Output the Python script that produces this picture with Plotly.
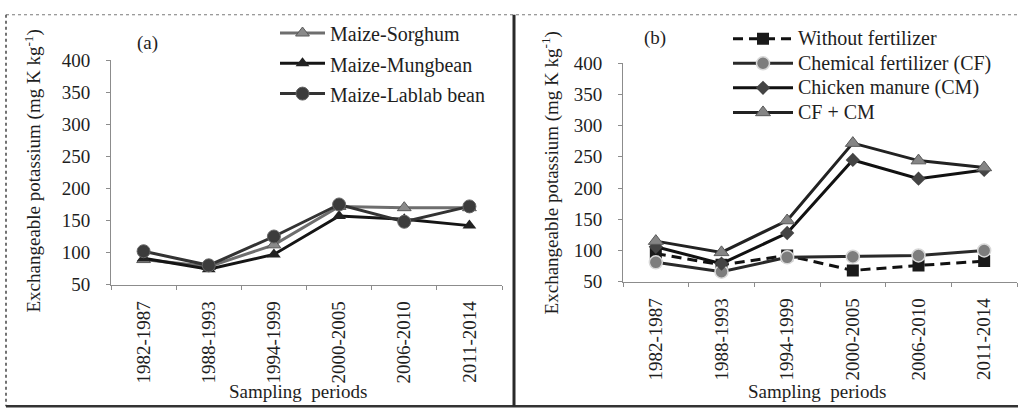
import plotly.graph_objects as go

W, H = 1018, 420

periods = ["1982-1987", "1988-1993", "1994-1999", "2000-2005", "2006-2010", "2011-2014"]

# Panel (a): cropping systems
maize_sorghum = [89, 78, 112, 172, 170, 170]
maize_mungbean = [91, 74, 97, 157, 152, 142]
maize_lablab = [102, 80, 125, 175, 148, 172]

# Panel (b): fertilizer treatments
without_fert = [95, 77, 92, 68, 76, 83]
chem_fert = [81, 66, 89, 90, 92, 100]
chicken_manure = [106, 79, 128, 245, 215, 229]
cf_cm = [115, 97, 148, 272, 244, 233]

FONT = "Liberation Serif"
TXT = "#1e1e1e"


def px(x):
    return x / W


def py(y):
    return 1 - y / H


def big(name):
    # legend entry text drawn larger than the row spacing font
    return f'<span style="font-size:20px">{name}</span>'


fig = go.Figure()

# ---- panel (a) ----
fig.add_trace(go.Scatter(
    x=periods, y=maize_sorghum, name=big("Maize-Sorghum"), mode="lines+markers",
    line=dict(color="#6e6e6e", width=3),
    marker=dict(symbol="triangle-up", size=12, color="#8a8a8a", line=dict(color="#5a5a5a", width=1)),
    xaxis="x", yaxis="y", legend="legend"))
fig.add_trace(go.Scatter(
    x=periods, y=maize_mungbean, name=big("Maize-Mungbean"), mode="lines+markers",
    line=dict(color="#151515", width=3),
    marker=dict(symbol="triangle-up", size=12, color="#222222"),
    xaxis="x", yaxis="y", legend="legend"))
fig.add_trace(go.Scatter(
    x=periods, y=maize_lablab, name=big("Maize-Lablab bean"), mode="lines+markers",
    line=dict(color="#333333", width=3),
    marker=dict(symbol="circle", size=13, color="#3c3c3c", line=dict(color="#666666", width=1)),
    xaxis="x", yaxis="y", legend="legend"))

# ---- panel (b) ----
fig.add_trace(go.Scatter(
    x=periods, y=without_fert, name=big("Without fertilizer"), mode="lines+markers",
    line=dict(color="#111111", width=3, dash="10px,6px"),
    marker=dict(symbol="square", size=12, color="#1a1a1a"),
    xaxis="x2", yaxis="y2", legend="legend2"))
fig.add_trace(go.Scatter(
    x=periods, y=chem_fert, name=big("Chemical fertilizer (CF)"), mode="lines+markers",
    line=dict(color="#2a2a2a", width=3),
    marker=dict(symbol="circle", size=13, color="#7d7d7d", line=dict(color="#d8d8d8", width=1.5)),
    xaxis="x2", yaxis="y2", legend="legend2"))
fig.add_trace(go.Scatter(
    x=periods, y=chicken_manure, name=big("Chicken manure (CM)"), mode="lines+markers",
    line=dict(color="#111111", width=3),
    marker=dict(symbol="diamond", size=11, color="#444444"),
    xaxis="x2", yaxis="y2", legend="legend2"))
fig.add_trace(go.Scatter(
    x=periods, y=cf_cm, name=big("CF + CM"), mode="lines+markers",
    line=dict(color="#222222", width=3),
    marker=dict(symbol="triangle-up", size=13, color="#858585", line=dict(color="#5a5a5a", width=1)),
    xaxis="x2", yaxis="y2", legend="legend2"))

tickfont = dict(family=FONT, size=19, color=TXT)


def yaxis_style(domain, anchor):
    return dict(domain=domain, anchor=anchor, range=[50, 400], dtick=50, tick0=0,
                showgrid=False, zeroline=False, showline=True, linecolor="#8c8c8c", linewidth=1,
                ticks="outside", ticklen=4, tickcolor="#8c8c8c", tickfont=tickfont,
                ticklabelstandoff=12)


def xaxis_style(domain, anchor):
    return dict(domain=domain, anchor=anchor, type="category", range=[-0.5, 5.5],
                tickson="boundaries", showgrid=False, zeroline=False, showline=True,
                linecolor="#8c8c8c", linewidth=1, ticks="outside", ticklen=4, tickcolor="#8c8c8c",
                tickangle=-90, tickfont=tickfont, ticklabelstandoff=8)


fig.update_layout(
    width=W, height=H,
    margin=dict(l=0, r=0, t=0, b=0),
    paper_bgcolor="white", plot_bgcolor="white",
    font=dict(family=FONT, color=TXT),
    xaxis=xaxis_style([px(111), px(502)], "y"),
    yaxis=yaxis_style([py(289), py(53)], "x"),
    xaxis2=xaxis_style([px(623), px(1017)], "y2"),
    yaxis2=yaxis_style([py(286), py(56)], "x2"),
    legend=dict(x=px(275), y=py(3), xanchor="left", yanchor="top",
                font=dict(family=FONT, size=21, color=TXT),
                bgcolor="rgba(0,0,0,0)", itemwidth=45, traceorder="normal"),
    legend2=dict(x=px(728), y=py(12), xanchor="left", yanchor="top",
                 font=dict(family=FONT, size=16.6, color=TXT),
                 bgcolor="rgba(0,0,0,0)", itemwidth=60, traceorder="normal"),
    showlegend=True,
)

ann_font = dict(family=FONT, size=19, color=TXT)
ytitle = "Exchangeable potassium (mg K kg<sup>-1</sup>)"


def label(text, x, y, angle=0):
    fig.add_annotation(text=text, x=px(x), y=py(y), xref="paper", yref="paper",
                       xanchor="center", yanchor="middle", textangle=angle,
                       showarrow=False, font=ann_font)


label(ytitle, 33, 170, -90)
label(ytitle, 550, 172, -90)
label("Sampling  periods", 298, 402)
label("Sampling  periods", 817, 402)
label("(a)", 147, 35)
label("(b)", 655, 30)

# frame around the two panels
fig.add_shape(type="line", xref="paper", yref="paper", x0=px(6), x1=1, y0=py(5), y1=py(5),
              line=dict(color="#7a7a7a", width=1, dash="dot"))
fig.add_shape(type="line", xref="paper", yref="paper", x0=px(6), x1=px(6), y0=py(5), y1=py(417),
              line=dict(color="#444444", width=1.5, dash="dot"))
fig.add_shape(type="line", xref="paper", yref="paper", x0=px(6), x1=1, y0=py(417), y1=py(417),
              line=dict(color="#333333", width=2.5))
fig.add_shape(type="line", xref="paper", yref="paper", x0=px(514), x1=px(514), y0=py(5), y1=py(417),
              line=dict(color="#2a2a2a", width=3))

fig.write_html("out.html")
